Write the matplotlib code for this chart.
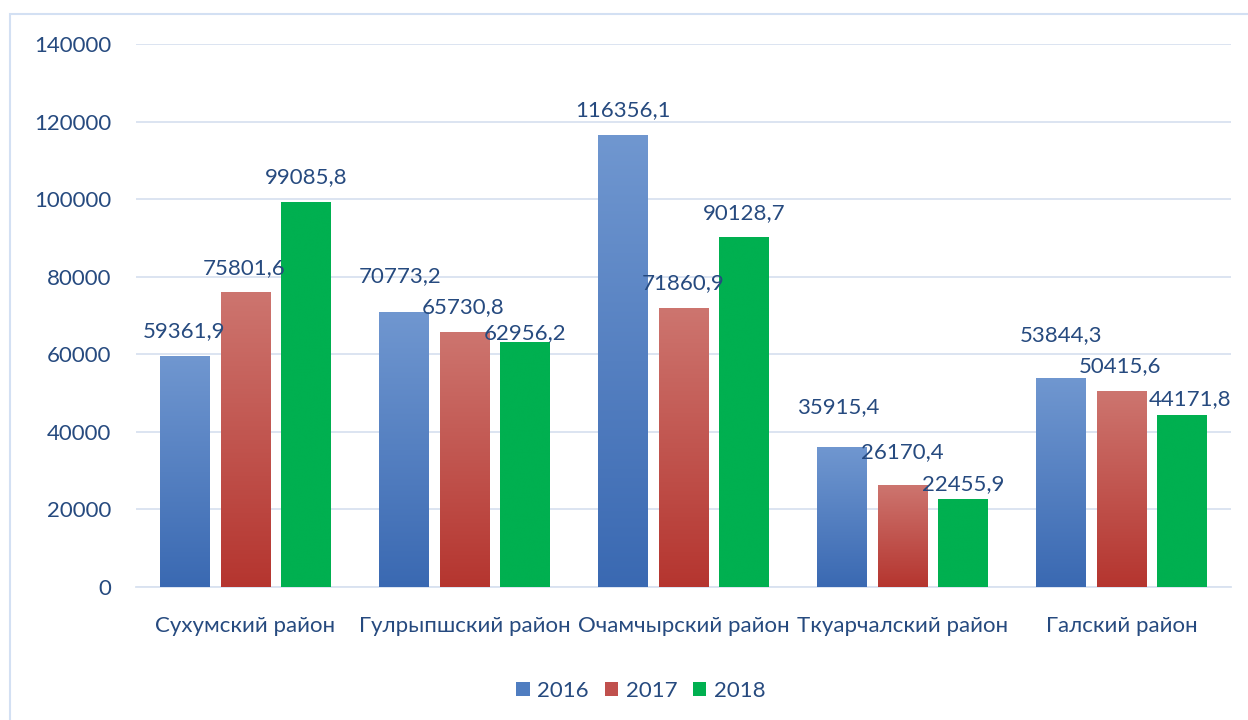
import numpy as np
import matplotlib.pyplot as plt
from matplotlib.colors import LinearSegmentedColormap
from matplotlib.patches import Rectangle, Patch

# Районы и значения по годам
districts = ['Сухумский район', 'Гулрыпшский район', 'Очамчырский район',
             'Ткуарчалский район', 'Галский район']
years = ['2016', '2017', '2018']
v2016 = [59361.9, 70773.2, 116356.1, 35915.4, 53844.3]
v2017 = [75801.6, 65730.8, 71860.9, 26170.4, 50415.6]
v2018 = [99085.8, 62956.2, 90128.7, 22455.9, 44171.8]
yticks = [0, 20000, 40000, 60000, 80000, 100000, 120000, 140000]

# label offsets (pixels) from the top centre of each bar, per series
lbl_off = [
    [(-1, 26), (-3, 36), (0, 26), (-3, 41), (0, 43)],
    [(-1, 25), (-1, 25), (0, 25), (0, 33), (-1, 25)],
    [(0, 26), (0, 10), (0, 24), (0, 16), (8, 17)],
]

# gradient top / bottom colours for each series
grad = [('#7097D0', '#3A69B2'), ('#CD756F', '#B5352F'), ('#00B050', '#00B050')]
legend_col = ['#4F7DC0', '#C0504D', '#00B050']
txt = '#264A7F'
grid_c = '#D9E2F0'
fs = 16

plt.rcParams['font.family'] = ['Lato', 'DejaVu Sans']

fig = plt.figure(figsize=(12.48, 7.2), dpi=100)
ax = fig.add_axes([136 / 1248, 1 - 587 / 720, 1095 / 1248, 543 / 720])

# outer frame
fig.patches.append(Rectangle((10 / 1248, -0.05), 1.2, 1 - 14 / 720 + 0.05,
                             transform=fig.transFigure, fill=False,
                             edgecolor='#D3E0F3', linewidth=1.5))

x = np.arange(len(districts))
step = 0.278
width = 0.228
series = [v2016, v2017, v2018]
grad_img = np.linspace(0, 1, 256).reshape(-1, 1)

for i, vals in enumerate(series):
    top, bot = grad[i]
    cmap = LinearSegmentedColormap.from_list('g%d' % i, [bot, top])
    bars = ax.bar(x + (i - 1) * step, vals, width, color='none', zorder=3)
    for j, (b, v) in enumerate(zip(bars, vals)):
        x0 = b.get_x()
        ax.imshow(grad_img, cmap=cmap, origin='lower', aspect='auto',
                  extent=(x0, x0 + width, 0, v), zorder=3, interpolation='bicubic')
        ax.annotate(f'{v:.1f}'.replace('.', ','), (x0 + width / 2, v),
                    xytext=lbl_off[i][j], textcoords='offset pixels',
                    ha='center', va='center', fontsize=fs, color=txt, zorder=4)

ax.set_xlim(-0.5, len(districts) - 0.5)
ax.set_ylim(0, 140000)
ax.set_yticks(yticks)
ax.set_yticklabels([str(t) for t in yticks])
ax.set_xticks(x)
ax.set_xticklabels(districts)
ax.tick_params(axis='both', length=0, labelsize=fs, labelcolor=txt)
ax.tick_params(axis='y', pad=18)
ax.tick_params(axis='x', pad=21)
ax.grid(axis='y', color=grid_c, linewidth=1.3, zorder=0)
ax.set_axisbelow(True)
for s in ['top', 'right', 'left']:
    ax.spines[s].set_visible(False)
ax.spines['bottom'].set_color(grid_c)
ax.spines['bottom'].set_linewidth(1.3)

handles = [Patch(facecolor=c) for c in legend_col]
fig.legend(handles, years, loc='center', bbox_to_anchor=(641 / 1248, 1 - 691 / 720),
           ncol=3, frameon=False, fontsize=fs, labelcolor=txt,
           handlelength=0.6, handleheight=0.6, handletextpad=0.35, columnspacing=0.7)

fig.savefig('out.png', dpi=100)
